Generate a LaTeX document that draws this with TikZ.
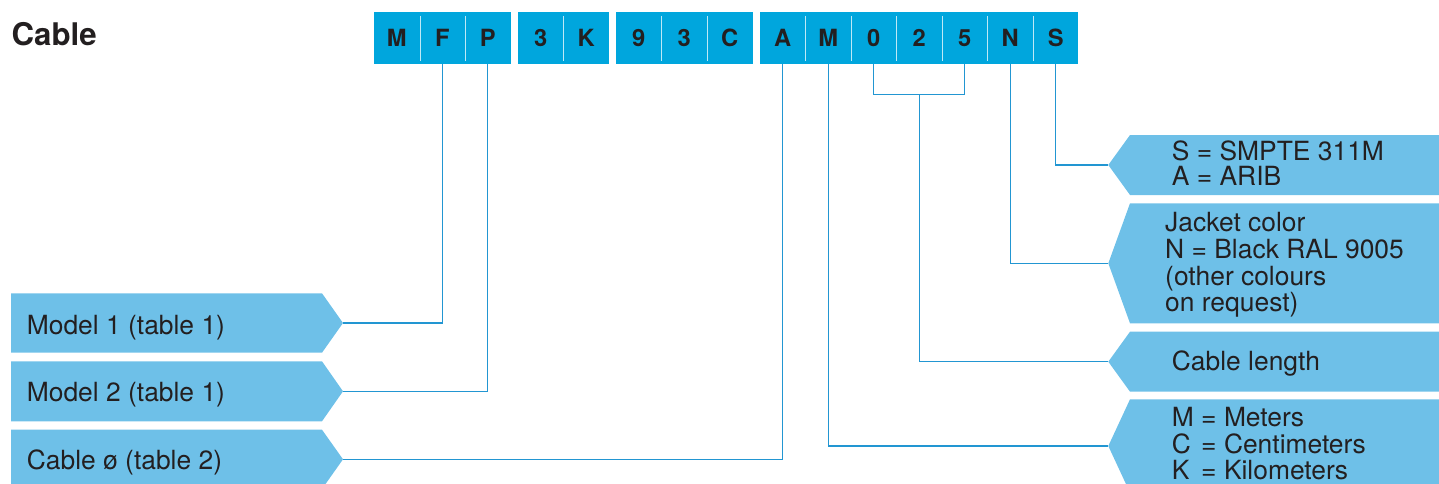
\documentclass[tikz,border=0pt]{standalone}
\usepackage{fontspec}
\setmainfont{TeX Gyre Heros}
\definecolor{boxblue}{HTML}{00A6DD}
\definecolor{lblblue}{HTML}{6EC0E8}
\definecolor{linblue}{HTML}{2296D2}
\definecolor{txt}{HTML}{231F20}
\tikzset{
  cell/.style={minimum width=45.5pt,minimum height=52.3pt,inner sep=0pt,text=txt,
    font=\fontsize{23.7}{24}\selectfont\bfseries},
  sep/.style={draw=white!75!boxblue,line width=1pt},
  lbl/.style={fill=lblblue,draw=none},
  conn/.style={draw=linblue,line width=1.2pt},
  ltext/.style={anchor=base west,inner sep=0pt,text=txt,font=\fontsize{26.4}{26.5}\selectfont},
}
\begin{document}
\begin{tikzpicture}[x=1pt,y=-1pt]
\useasboundingbox (0,0) rectangle (1439,484);
% title
\node[anchor=base west,inner sep=0pt,text=txt,font=\fontsize{31.2}{32}\selectfont\bfseries] (title) at (11.5,46) {Cable};
% code groups
\fill[boxblue] (374,12) rectangle (510.5,64.3);
\fill[boxblue] (518,12) rectangle (609,64.3);
\fill[boxblue] (616,12) rectangle (752.5,64.3);
\fill[boxblue] (760,12) rectangle (1078,64.3);
\foreach \x in {420,465.5,563.5,661.5,707,805.5,851,896.5,942,987.5,1033}
  \draw[sep] (\x,16) -- (\x,61);
\node[cell] (cM)  at (396.75,38.15) {M};
\node[cell] (cF)  at (442.25,38.15) {F};
\node[cell] (cP)  at (487.75,38.15) {P};
\node[cell] (c3a) at (540.75,38.15) {3};
\node[cell] (cK)  at (586.25,38.15) {K};
\node[cell] (c9)  at (638.75,38.15) {9};
\node[cell] (c3b) at (684.25,38.15) {3};
\node[cell] (cC)  at (729.75,38.15) {C};
\node[cell] (cA)  at (782.75,38.15) {A};
\node[cell] (cM2) at (828.25,38.15) {M};
\node[cell] (c0)  at (873.75,38.15) {0};
\node[cell] (c2)  at (919.25,38.15) {2};
\node[cell] (c5)  at (964.75,38.15) {5};
\node[cell] (cN)  at (1010.25,38.15) {N};
\node[cell] (cS)  at (1055.75,38.15) {S};
% left labels
\fill[lbl] (11,293.3) -- (322,293.3) -- (343,323) -- (322,352.7) -- (11,352.7) -- cycle;
\fill[lbl] (11,361.3) -- (322,361.3) -- (343,391.3) -- (322,421.3) -- (11,421.3) -- cycle;
\fill[lbl] (11,429.7) -- (322,429.7) -- (343,459.3) -- (322,489) -- (11,489) -- cycle;
\coordinate (tL1) at (343,323);
\coordinate (tL2) at (343,391.3);
\coordinate (tL3) at (343,459.3);
\node[ltext] (m1) at (26.7,334) {Model 1 (table 1)};
\node[ltext] (m2) at (26.7,401.7) {Model 2 (table 1)};
\node[ltext] (cd) at (26.7,469.3) {Cable ø (table 2)};
% right labels
\fill[lbl] (1445,135) -- (1130,135) -- (1108.3,165) -- (1130,195) -- (1445,195) -- cycle;
\fill[lbl] (1445,203.3) -- (1130,203.3) -- (1108.3,263.3) -- (1130,323.3) -- (1445,323.3) -- cycle;
\fill[lbl] (1445,331.7) -- (1130,331.7) -- (1108.3,361.7) -- (1130,391.7) -- (1445,391.7) -- cycle;
\fill[lbl] (1445,399.3) -- (1130,399.3) -- (1108.3,446) -- (1130,492.7) -- (1445,492.7) -- cycle;
\coordinate (tR1) at (1108.3,165);
\coordinate (tR2) at (1108.3,263.3);
\coordinate (tR3) at (1108.3,361.7);
\coordinate (tR4) at (1108.3,446);
\node[ltext] (s1) at (1171.7,160.7) {S = SMPTE 311M};
\node[ltext] (s2) at (1171.7,185.7) {A = ARIB};
\node[ltext] (j1) at (1165,231.7) {Jacket color};
\node[ltext] (j2) at (1165,258.3) {N = Black RAL 9005};
\node[ltext] (j3) at (1165,285) {(other colours};
\node[ltext] (j4) at (1165,311.7) {on request)};
\node[ltext] (cl) at (1171.7,370.7) {Cable length};
\node[ltext] (u1) at (1171.7,426) {M = Meters};
\node[ltext] (u2) at (1171.7,453) {\rlap{C}\phantom{M} = Centimeters};
\node[ltext] (u3) at (1171.7,479.5) {\rlap{K}\phantom{M} = Kilometers};
% connectors
\coordinate (br) at (919.25,94.7);
\draw[conn] (cF.south) |- (tL1);
\draw[conn] (cP.south) |- (tL2);
\draw[conn] (cA.south) |- (tL3);
\draw[conn] (cM2.south) |- (tR4);
\draw[conn] (c0.south) |- (br) -| (c5.south);
\draw[conn] (br) |- (tR3);
\draw[conn] (cN.south) |- (tR2);
\draw[conn] (cS.south) |- (tR1);
\end{tikzpicture}
\end{document}
